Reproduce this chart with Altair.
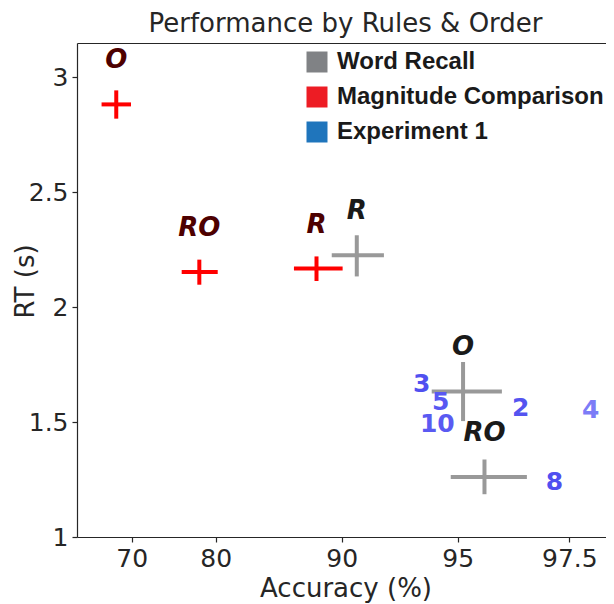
import altair as alt
import pandas as pd

# ---- data ----
# Word Recall (gray crosses)
wr_labels = ["R", "O", "RO"]
wr_acc = [90.65, 95.12, 95.60]
wr_acc_lo = [89.21, 93.88, 94.70]
wr_acc_hi = [91.82, 95.99, 96.55]
wr_rt = [2.225, 1.633, 1.261]
wr_rt_lo = [2.133, 1.504, 1.186]
wr_rt_hi = [2.312, 1.761, 1.337]

# Magnitude Comparison (red crosses)
mc_labels = ["O", "RO", "R"]
mc_acc = [68.17, 78.05, 88.0]
mc_acc_lo = [66.43, 75.95, 86.21]
mc_acc_hi = [69.92, 80.16, 90.04]
mc_rt = [2.881, 2.152, 2.167]
mc_rt_lo = [2.819, 2.097, 2.113]
mc_rt_hi = [2.942, 2.206, 2.220]

# Experiment 1 (blue numbers)
e1_labels = ["3", "5", "10", "2", "4", "8"]
e1_acc = [93.45, 94.27, 94.12, 96.41, 97.98, 97.17]
e1_rt = [1.667, 1.587, 1.493, 1.563, 1.554, 1.237]
e1_colors = ["#5050f0", "#5858f2", "#5a5af2", "#5454f0", "#7c7cf7", "#5050f0"]

legend_labels = ["Word Recall", "Magnitude Comparison", "Experiment 1"]
legend_colors = ["#808285", "#ED1C24", "#1F75BC"]

x_ticks = [70, 80, 90, 95, 97.5]
y_ticks = [1, 1.5, 2, 2.5, 3]

wr = pd.DataFrame(dict(label=wr_labels, acc=wr_acc, acc_lo=wr_acc_lo, acc_hi=wr_acc_hi,
                       rt=wr_rt, rt_lo=wr_rt_lo, rt_hi=wr_rt_hi))
mc = pd.DataFrame(dict(label=mc_labels, acc=mc_acc, acc_lo=mc_acc_lo, acc_hi=mc_acc_hi,
                       rt=mc_rt, rt_lo=mc_rt_lo, rt_hi=mc_rt_hi))
e1 = pd.DataFrame(dict(label=e1_labels, acc=e1_acc, rt=e1_rt, color=e1_colors))
leg = pd.DataFrame(dict(name=legend_labels))

W, H = 529, 494
FONT = "DejaVu Sans"
INK = "#262626"

xscale = alt.Scale(domain=[63.52, 70, 80, 90, 95, 97.5, 98.32],
                   range=[0, 54.7, 138.7, 264.7, 380.7, 492.3, W],
                   nice=False, zero=False)
yscale = alt.Scale(domain=[1, 3.148], nice=False, zero=False)

x_axis = alt.Axis(values=x_ticks, format=".3~g", grid=False, labelFont=FONT, labelFontSize=25,
                  labelColor=INK, tickSize=5, tickColor=INK, tickWidth=1.2,
                  domainColor=INK, domainWidth=1.2, labelPadding=4, labelFlush=False,
                  title="Accuracy (%)", titleFont=FONT, titleFontSize=26,
                  titleFontWeight="normal", titleColor=INK,
                  titleBaseline="alphabetic", titleY=59, titleX=268.5)
x_top = alt.Axis(orient="top", labels=False, ticks=False, grid=False, domainColor=INK,
                 domainWidth=1.2, title=None, minExtent=0, maxExtent=0)
y_axis = alt.Axis(values=y_ticks, format=".3~g", grid=False, labelFont=FONT, labelFontSize=25,
                  labelColor=INK, tickSize=5, tickColor=INK, tickWidth=1.2,
                  domainColor=INK, domainWidth=1.2, labelPadding=4,
                  title="RT (s)", titleFont=FONT, titleFontSize=26,
                  titleFontWeight="normal", titleColor=INK,
                  titleX=-52, titleY=238, titleBaseline="middle")


def X(field, axis=None):
    if axis is None:
        return alt.X(field, type="quantitative", scale=xscale, axis=None)
    return alt.X(field, type="quantitative", scale=xscale, axis=axis)


def Y(field):
    return alt.Y(field, type="quantitative", scale=yscale, axis=y_axis)


mc_h = alt.Chart(mc).mark_rule(color="#ff0000", strokeWidth=4).encode(
    x=X("acc_lo", x_axis), x2="acc_hi", y=Y("rt"))
mc_v = alt.Chart(mc).mark_rule(color="#ff0000", strokeWidth=4).encode(
    x=X("acc"), y=Y("rt_lo"), y2="rt_hi")
mc_t = alt.Chart(mc).mark_text(font=FONT, fontSize=26, fontStyle="italic", fontWeight="bold",
                               color="#4d0000", dy=-44, align="center", baseline="middle").encode(
    x=X("acc"), y=Y("rt"), text="label")

wr_h = alt.Chart(wr).mark_rule(color="#999999", strokeWidth=4).encode(
    x=X("acc_lo", x_top), x2="acc_hi", y=Y("rt"))
wr_v = alt.Chart(wr).mark_rule(color="#999999", strokeWidth=4).encode(
    x=X("acc"), y=Y("rt_lo"), y2="rt_hi")
wr_t = alt.Chart(wr).mark_text(font=FONT, fontSize=26, fontStyle="italic", fontWeight="bold",
                               color="#1a1a1a", dy=-44, align="center", baseline="middle").encode(
    x=X("acc"), y=Y("rt"), text="label")

e1_t = alt.Chart(e1).mark_text(font=FONT, fontSize=25, fontWeight="bold",
                               align="center", baseline="middle").encode(
    x=X("acc"), y=Y("rt"), text="label", color=alt.Color("color:N", scale=None))

legend_layer = alt.Chart(leg).mark_square(opacity=0, size=441).encode(
    color=alt.Color("name:N", scale=alt.Scale(domain=legend_labels, range=legend_colors),
                    legend=alt.Legend(orient="none", legendX=228, legendY=7, title=None,
                                      symbolType="square", symbolSize=441, symbolStrokeWidth=0,
                                      symbolOpacity=1, labelFont="Liberation Sans",
                                      labelFontSize=24, labelFontWeight="bold",
                                      labelColor="#1a1a1a", labelOffset=8, labelLimit=400,
                                      rowPadding=11, padding=0)))

chart = alt.layer(mc_h, mc_v, mc_t, wr_h, wr_v, wr_t, e1_t, legend_layer).resolve_axis(
    x="independent").resolve_scale(color="independent").properties(
    width=W, height=H,
    title=alt.TitleParams("Performance by Rules & Order", font=FONT, fontSize=26,
                          fontWeight="normal", color=INK, anchor="middle", offset=12,
                          baseline="alphabetic", dy=27, dx=4),
    padding={"left": 69, "top": 35, "right": 0, "bottom": 66},
    autosize=alt.AutoSizeParams(type="none"),
).configure_view(strokeWidth=0)

chart.save("out.html", embed_options={"renderer": "svg", "actions": False})
